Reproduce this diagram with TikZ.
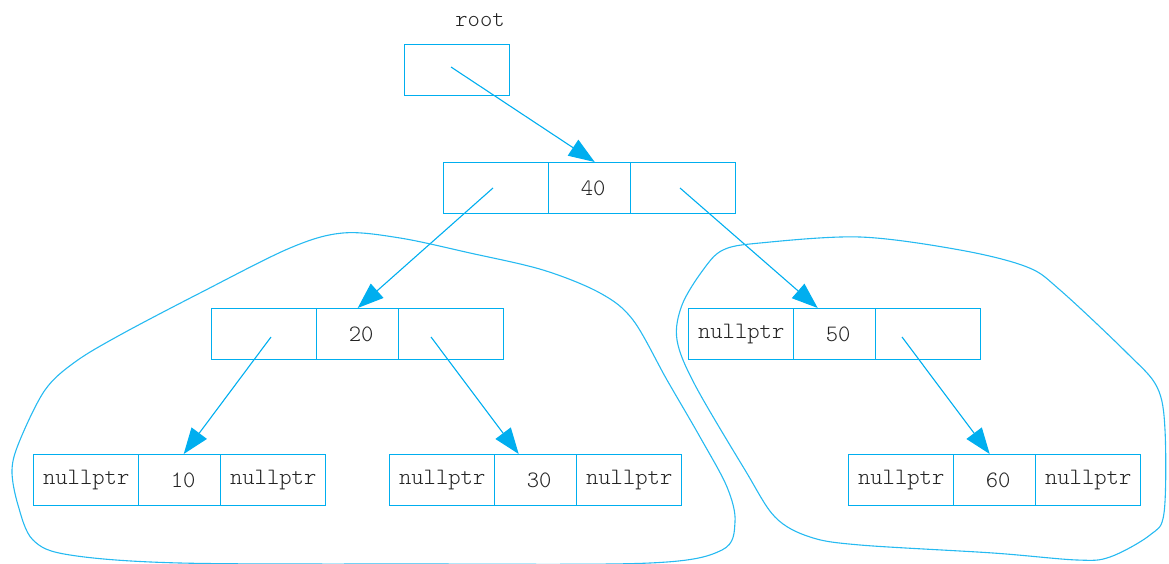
\documentclass[tikz,border=0pt]{standalone}
\usetikzlibrary{arrows.meta,calc}
\definecolor{cy}{RGB}{0,174,239}
\definecolor{txt}{RGB}{35,35,35}
\newcommand{\celltext}{\fontsize{23.5}{27}\ttfamily\fontseries{l}\selectfont}
\begin{document}
\begin{tikzpicture}[x=1pt,y=-1pt,
  cell/.style={draw=cy, line width=1.4pt, minimum height=51pt, inner sep=0pt,
    font=\celltext, text=txt, anchor=north west},
  wide/.style={cell, minimum width=105pt},
  mid/.style={cell, minimum width=82pt},
  ptr/.style={draw=cy, line width=1.1pt, -{Triangle[length=26pt,width=19pt]}},
  blob/.style={draw=cy!85, line width=1.1pt},
  lbl/.style={font=\celltext, text=txt, inner sep=0pt}]
\useasboundingbox (0,0) rectangle (1169,564);

% root
\node[lbl] (rootlbl) at (480,20) {root};
\node[wide] (root) at (404,44) {};

% level 1
\node[wide] (n40l) at (443,162) {};
\node[mid]  (n40m) at (548,162) {\hspace*{7pt}40};
\node[wide] (n40r) at (630,162) {};

% level 2
\node[wide] (n20l) at (211,308) {};
\node[mid]  (n20m) at (316,308) {\hspace*{7pt}20};
\node[wide] (n20r) at (398,308) {};

\node[wide] (n50l) at (688,308) {nullptr};
\node[mid]  (n50m) at (793,308) {\hspace*{7pt}50};
\node[wide] (n50r) at (875,308) {};

% level 3
\node[wide] (n10l) at (33,454) {nullptr};
\node[mid]  (n10m) at (138,454) {\hspace*{7pt}10};
\node[wide] (n10r) at (220,454) {nullptr};

\node[wide] (n30l) at (389,454) {nullptr};
\node[mid]  (n30m) at (494,454) {\hspace*{7pt}30};
\node[wide] (n30r) at (576,454) {nullptr};

\node[wide] (n60l) at (848,454) {nullptr};
\node[mid]  (n60m) at (953,454) {\hspace*{7pt}60};
\node[wide] (n60r) at (1035,454) {nullptr};

% pointer origins
\coordinate (p0) at (451,67);
\coordinate (p1) at (493,188);
\coordinate (p2) at (680,188);
\coordinate (p3) at (271,337);
\coordinate (p4) at (431,337);
\coordinate (p5) at (902,337);

\draw[ptr] (p0) -- ($(n40m.north)+(5,0)$);
\draw[ptr] (p1) -- (n20m.north);
\draw[ptr] (p2) -- ($(n50m.north)+(-17,0)$);
\draw[ptr] (p3) -- ($(n10m.north)+(4,0)$);
\draw[ptr] (p4) -- ($(n30m.north)+(-17,0)$);
\draw[ptr] (p5) -- ($(n60m.north)+(-5,0)$);

% subtree outlines
\draw[blob] plot[smooth cycle, tension=0.55] coordinates {
 (343,233) (400,238) (470,253) (543,270) (600,293) (633,320) (667,380)
 (700,437) (727,487) (735,522) (722,550) (650,563) (420,564) (180,563)
 (70,555) (33,540) (18,505) (12,470) (20,440) (45,390) (75,362) (120,335)
 (200,293) (290,248)};
\draw[blob] plot[smooth cycle, tension=0.55] coordinates {
 (860,237) (960,250) (1027,267) (1060,290) (1127,353) (1157,387) (1165,430)
 (1164,513) (1150,535) (1110,557) (1077,560) (993,553) (860,545) (810,537)
 (775,517) (745,470) (695,385) (677,340) (682,305) (703,270) (723,250) (760,243)};
\end{tikzpicture}
\end{document}
